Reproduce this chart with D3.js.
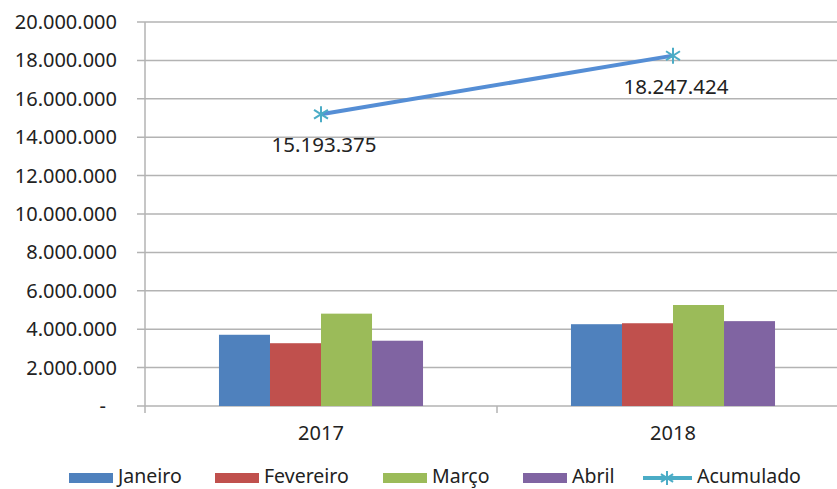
<!DOCTYPE html>
<html>
<head>
<meta charset="utf-8">
<script src="https://cdn.jsdelivr.net/npm/d3@7"></script>
<style>
  html, body { margin: 0; padding: 0; background: #fff; }
  svg { display: block; font-family: "Noto Sans", sans-serif; }
</style>
</head>
<body>
<svg id="chart" width="837" height="489"></svg>
<script>
const years = ["2017", "2018"];
const seriesNames = ["Janeiro", "Fevereiro", "Março", "Abril"];
const janeiro = [3710000, 4260000];
const fevereiro = [3270000, 4310000];
const marco = [4810000, 5260000];
const abril = [3400000, 4420000];
const acumulado = [15193375, 18247424];
const yTicks = [0, 2000000, 4000000, 6000000, 8000000, 10000000, 12000000, 14000000, 16000000, 18000000, 20000000];
const colors = ["#4F81BD", "#C0504D", "#9BBB59", "#8064A2"];
const lineColor = "#558ED5";
const markerColor = "#4BACC6";

const seriesValues = [janeiro, fevereiro, marco, abril];
const svg = d3.select("#chart");
const pLeft = 145, pRight = 849, pTop = 22, pBottom = 406;
const textColor = "#222";
const grid = "#b3b3b3";

const y = d3.scaleLinear().domain([0, 20000000]).range([pBottom, pTop]);
const x0 = d3.scaleBand().domain(years).range([pLeft, pRight]).padding(0);
const x1 = d3.scaleBand().domain(seriesNames).range([0, x0.bandwidth()]).paddingInner(0).paddingOuter(1.45);

const fmt = v => v === 0 ? "-" : d3.format(",")(v).replace(/,/g, ".");

// gridlines + y ticks
const yAxis = svg.append("g");
yAxis.selectAll("line").data(yTicks).join("line")
  .attr("x1", pLeft - 8).attr("x2", pRight)
  .attr("y1", d => y(d)).attr("y2", d => y(d))
  .attr("stroke", grid).attr("stroke-width", 1.5);
yAxis.selectAll("text").data(yTicks).join("text")
  .attr("x", d => d === 0 ? 106 : 117)
  .attr("y", d => y(d)).attr("dy", "0.35em")
  .attr("text-anchor", "end")
  .attr("font-size", 20).attr("fill", textColor)
  .text(fmt);
// y axis line
svg.append("line").attr("x1", pLeft).attr("x2", pLeft).attr("y1", pTop).attr("y2", pBottom + 7)
  .attr("stroke", grid).attr("stroke-width", 1.5);
// x ticks at band edges
svg.append("g").selectAll("line").data(years.slice(1)).join("line")
  .attr("x1", d => x0(d)).attr("x2", d => x0(d))
  .attr("y1", pBottom).attr("y2", pBottom + 7)
  .attr("stroke", grid).attr("stroke-width", 1.5);
// category labels
svg.append("g").selectAll("text").data(years).join("text")
  .attr("x", d => x0(d) + x0.bandwidth() / 2).attr("y", 440)
  .attr("text-anchor", "middle").attr("font-size", 20).attr("fill", textColor)
  .text(d => d);

// bars
const bars = [];
years.forEach((yr, i) => seriesNames.forEach((s, j) => bars.push({ yr, s, j, v: seriesValues[j][i] })));
svg.append("g").selectAll("rect").data(bars).join("rect")
  .attr("x", d => x0(d.yr) + x1(d.s))
  .attr("width", x1.bandwidth())
  .attr("y", d => y(d.v))
  .attr("height", d => y(0) - y(d.v))
  .attr("fill", d => colors[d.j]);

// accumulated line
const pts = years.map((yr, i) => ({ x: x0(yr) + x0.bandwidth() / 2, y: y(acumulado[i]), v: acumulado[i] }));
svg.append("path").datum(pts)
  .attr("d", d3.line().x(d => d.x).y(d => d.y))
  .attr("fill", "none").attr("stroke", lineColor).attr("stroke-width", 4);

function star(g, cx, cy, r, color) {
  const s = g.append("g").attr("transform", `translate(${cx},${cy})`)
    .attr("stroke", color).attr("stroke-width", 2);
  s.append("line").attr("x1", 0).attr("x2", 0).attr("y1", -r).attr("y2", r);
  s.append("line").attr("x1", -r * 0.87).attr("x2", r * 0.87).attr("y1", -r * 0.55).attr("y2", r * 0.55);
  s.append("line").attr("x1", -r * 0.87).attr("x2", r * 0.87).attr("y1", r * 0.55).attr("y2", -r * 0.55);
}
pts.forEach(p => star(svg, p.x, p.y, 8, markerColor));
svg.append("g").selectAll("text").data(pts).join("text")
  .attr("x", d => d.x + 3).attr("y", d => d.y + 38)
  .attr("text-anchor", "middle").attr("font-size", 20.5).attr("fill", textColor)
  .text(d => fmt(d.v));

// legend
const legX = [69, 215, 383, 523];
const legY = 483;
const leg = svg.append("g");
seriesNames.forEach((s, j) => {
  leg.append("rect").attr("x", legX[j]).attr("y", legY - 10).attr("width", 44).attr("height", 10).attr("fill", colors[j]);
  leg.append("text").attr("x", legX[j] + 49).attr("y", legY).attr("font-size", 19.5).attr("fill", textColor).text(s);
});
leg.append("line").attr("x1", 643).attr("x2", 692).attr("y1", legY - 5).attr("y2", legY - 5)
  .attr("stroke", markerColor).attr("stroke-width", 4);
star(leg, 667, legY - 5, 7, markerColor);
leg.append("text").attr("x", 697).attr("y", legY).attr("font-size", 19.5).attr("fill", textColor).text("Acumulado");
</script>
</body>
</html>
